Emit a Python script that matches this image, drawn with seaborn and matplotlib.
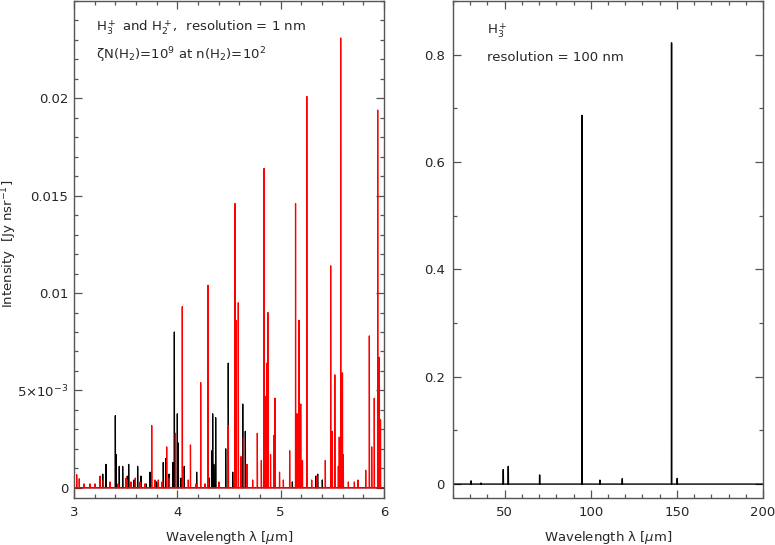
import numpy as np
import matplotlib
matplotlib.use("Agg")
import matplotlib.pyplot as plt
import seaborn as sns
from matplotlib.ticker import MultipleLocator, FixedLocator, FixedFormatter

# H3+ lines, 3-6 micron (black), resolution 1 nm
h3_lam = [3.278, 3.310, 3.400, 3.409, 3.438, 3.471, 3.516, 3.529, 3.581, 3.616,
          3.648, 3.697, 3.736, 3.800, 3.864, 3.887, 3.919, 3.955, 3.971, 4.000,
          4.009, 4.036, 4.067, 4.187, 4.309, 4.333, 4.342, 4.353, 4.371, 4.468,
          4.493, 4.536, 4.633, 4.658, 5.113, 5.148, 5.342, 5.358, 5.403]
h3_int = [0.0007, 0.0012, 0.0037, 0.0017, 0.0011, 0.0011, 0.0006, 0.0012, 0.0004, 0.0011,
          0.0006, 0.0002, 0.0008, 0.0003, 0.0013, 0.0015, 0.0007, 0.0013, 0.0080, 0.0038,
          0.0023, 0.0005, 0.0011, 0.0008, 0.0005, 0.0019, 0.0038, 0.0012, 0.0036, 0.0020,
          0.0064, 0.0008, 0.0043, 0.0029, 0.0003, 0.0014, 0.0006, 0.0007, 0.0004]

# H2+ lines, 3-6 micron (red)
h2_lam = [3.026, 3.051, 3.097, 3.155, 3.203, 3.252, 3.284, 3.348, 3.426, 3.503,
          3.516, 3.552, 3.593, 3.639, 3.687, 3.752, 3.784, 3.816, 3.852, 3.897,
          3.922, 3.982, 4.048, 4.106, 4.127, 4.181, 4.226, 4.268, 4.297, 4.403,
          4.493, 4.558, 4.568, 4.590, 4.616, 4.640, 4.674, 4.729, 4.774, 4.813,
          4.839, 4.848, 4.865, 4.876, 4.902, 4.936, 4.945, 4.989, 5.026, 5.087,
          5.144, 5.158, 5.177, 5.194, 5.211, 5.253, 5.300, 5.349, 5.432, 5.484,
          5.500, 5.524, 5.558, 5.567, 5.581, 5.591, 5.598, 5.606, 5.655, 5.713,
          5.748, 5.823, 5.858, 5.881, 5.906, 5.939, 5.955, 5.966]
h2_int = [0.00067, 0.00046, 0.0002, 0.0002, 0.0002, 0.0006, 0.0004, 0.0003, 0.0002, 0.0005,
          0.0004, 0.0003, 0.0005, 0.0003, 0.0002, 0.0032, 0.0004, 0.0004, 0.0003, 0.0021,
          0.0005, 0.0028, 0.0093, 0.0004, 0.0022, 0.0002, 0.0054, 0.0002, 0.0104, 0.0003,
          0.0032, 0.0146, 0.0086, 0.0095, 0.0016, 0.0026, 0.0012, 0.0004, 0.0028, 0.0014,
          0.0164, 0.0047, 0.0064, 0.0090, 0.0017, 0.0027, 0.0046, 0.0008, 0.0004, 0.0019,
          0.0146, 0.0038, 0.0086, 0.0043, 0.0014, 0.0201, 0.0004, 0.0006, 0.0014, 0.0114,
          0.0029, 0.0058, 0.0011, 0.0026, 0.0231, 0.0045, 0.0059, 0.0017, 0.0003, 0.0003,
          0.0004, 0.0009, 0.0078, 0.0021, 0.0046, 0.0194, 0.0067, 0.0035]

# H3+ far-infrared lines, resolution 100 nm
fir_lam = [30.5, 36.2, 49.2, 52.1, 70.3, 94.9, 105.3, 118.3, 146.9, 150.2]
fir_int = [0.006, 0.002, 0.027, 0.033, 0.017, 0.687, 0.0074, 0.010, 0.822, 0.0105]


def binned_spectrum(lam, inten, lo, hi, step):
    # put each line into its resolution bin
    n = int(round((hi - lo) / step)) + 1
    grid = lo + step * np.arange(n)
    spec = np.zeros(n)
    idx = np.rint((np.array(lam) - lo) / step).astype(int)
    np.maximum.at(spec, idx, np.array(inten))
    return grid, spec


sns.set_style("ticks")
plt.rcParams["font.family"] = ["DejaVu Sans"]
fs = 9.5
plt.rcParams["font.size"] = fs
frame = "#555555"

fig = plt.figure(figsize=(7.75, 5.45), dpi=100)
ax1 = fig.add_axes([74 / 775, 1 - 497.5 / 545, 310 / 775, 496.5 / 545])
ax2 = fig.add_axes([453 / 775, 1 - 497.5 / 545, 310 / 775, 496.5 / 545])

x, y = binned_spectrum(h3_lam, h3_int, 3.0, 6.0, 0.001)
sns.lineplot(x=x, y=y, ax=ax1, color="black", lw=0.9, estimator=None)
x, y = binned_spectrum(h2_lam, h2_int, 3.0, 6.0, 0.001)
sns.lineplot(x=x, y=y, ax=ax1, color="#ff0000", lw=0.9, estimator=None)

x, y = binned_spectrum(fir_lam, fir_int, 20.0, 200.0, 0.1)
sns.lineplot(x=x, y=y, ax=ax2, color="black", lw=1.0, estimator=None)

ax1.set_xlim(3, 6)
ax1.set_ylim(-0.0005, 0.025)
ax1.xaxis.set_major_locator(MultipleLocator(1))
ax1.xaxis.set_minor_locator(MultipleLocator(0.2))
ax1.yaxis.set_major_locator(FixedLocator([0, 0.005, 0.01, 0.015, 0.02]))
ax1.yaxis.set_major_formatter(FixedFormatter(["0", r"5$\times$10$^{-3}$", "0.01", "0.015", "0.02"]))
ax1.yaxis.set_minor_locator(MultipleLocator(0.001))
ax1.set_ylabel(r"Intensity  [Jy nsr$^{-1}$]")
ax1.yaxis.set_label_coords(-0.178, 0.51)

ax2.set_xlim(20, 200)
ax2.set_ylim(-0.025, 0.9)
ax2.xaxis.set_major_locator(MultipleLocator(50))
ax2.xaxis.set_minor_locator(MultipleLocator(10))
ax2.yaxis.set_major_locator(FixedLocator([0, 0.2, 0.4, 0.6, 0.8]))
ax2.yaxis.set_major_formatter(FixedFormatter(["0", "0.2", "0.4", "0.6", "0.8"]))
ax2.yaxis.set_minor_locator(MultipleLocator(0.1))
ax2.set_ylabel("")

for ax in (ax1, ax2):
    ax.set_xlabel(r"Wavelength λ [$\mu$m]", labelpad=7)
    ax.tick_params(which="both", direction="in", top=True, right=True,
                   color=frame, width=0.9, labelsize=fs)
    ax.tick_params(which="major", length=6, pad=6)
    ax.tick_params(which="minor", length=3)
    for s in ax.spines.values():
        s.set_color(frame)
        s.set_linewidth(1.0)
        s.set_visible(True)

ax1.tick_params(axis="y", which="major", pad=4)

ax1.text(0.07, 0.947, r"H$_3^+$ and H$_2^+$,  resolution = 1 nm", transform=ax1.transAxes,
         fontsize=fs, va="center")
ax1.text(0.07, 0.89, r"ζN(H$_2$)=10$^9$ at n(H$_2$)=10$^2$", transform=ax1.transAxes,
         fontsize=fs, va="center")
ax2.text(0.11, 0.94, r"H$_3^+$", transform=ax2.transAxes, fontsize=fs, va="center")
ax2.text(0.11, 0.887, "resolution = 100 nm", transform=ax2.transAxes, fontsize=fs, va="center")

fig.savefig("out.png", dpi=100)
